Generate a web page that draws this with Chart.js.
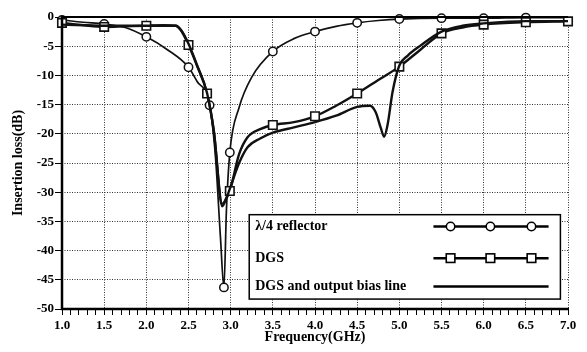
<!DOCTYPE html>
<html><head><meta charset="utf-8">
<script src="https://cdn.jsdelivr.net/npm/chart.js@4"></script>
<style>html,body{margin:0;padding:0;background:#fff}</style>
</head><body>
<canvas id="c" width="587" height="352"></canvas>
<script>
// ---- data ----
const lambdaFreq = [1.0,1.25,1.5,1.75,2.0,2.25,2.5,2.6,2.75,2.82,2.88,2.92,2.95,2.99,3.1,3.25,3.5,3.75,4.0,4.25,4.5,4.75,5.0,5.5,6.0,6.5,7.0];
const lambdaLoss = [-0.5,-0.9,-1.2,-1.8,-3.4,-5.6,-8.6,-11,-15.1,-24,-38,-46.3,-33,-23.2,-15.5,-10.3,-5.9,-3.7,-2.5,-1.6,-1.0,-0.6,-0.35,-0.2,-0.2,-0.1,-0.1];
const lambdaMarkers = [1.0,1.5,2.0,2.5,2.75,2.92,2.99,3.5,4.0,4.5,5.0,5.5,6.0,6.5];

const dgsFreq = [1.0,1.25,1.5,1.75,2.0,2.2,2.35,2.42,2.5,2.6,2.72,2.8,2.9,2.95,2.99,3.1,3.2,3.35,3.5,3.75,4.0,4.25,4.5,4.75,5.0,5.25,5.5,5.75,6.0,6.5,7.0];
const dgsLoss = [-1.0,-1.4,-1.7,-1.6,-1.5,-1.4,-1.5,-2.5,-4.8,-8.3,-13.1,-19.5,-32.4,-31,-29.8,-23.5,-20.6,-19.2,-18.5,-18,-17,-15.2,-13.1,-10.8,-8.5,-5.6,-2.8,-1.8,-1.3,-0.9,-0.75];
const dgsMarkers = [1.0,1.5,2.0,2.5,2.72,2.99,3.5,4.0,4.5,5.0,5.5,6.0,6.5,7.0];

const biasFreq = [1.0,1.5,2.0,2.35,2.42,2.5,2.6,2.72,2.8,2.9,2.95,3.0,3.1,3.2,3.35,3.5,3.75,4.0,4.25,4.5,4.65,4.72,4.78,4.82,4.86,4.92,5.0,5.1,5.25,5.5,5.75,6.0,6.5,7.0];
const biasLoss = [-1.3,-1.5,-1.5,-1.5,-2.4,-4.6,-8.2,-13,-19.5,-32,-31,-29,-25,-22.3,-20.8,-19.8,-18.9,-18,-16.9,-15.4,-15.2,-16.3,-19,-20.5,-18.5,-12.8,-8.3,-6.6,-4.9,-2.5,-1.5,-1.1,-0.7,-0.7];

const seriesNames = ['λ/4 reflector','DGS','DGS and output bias line'];
const xTitle = 'Frequency(GHz)';
const yTitle = 'Insertion loss(dB)';
const xMin = 1.0, xMax = 7.0, yMin = -50, yMax = 0;

// ---- build ----
const toPts = (f, v) => f.map((x, i) => ({x, y: v[i]}));
const near = (a, b) => Math.abs(a - b) < 1e-6;
const markerRadius = (list, r) => ctx => {
  const raw = ctx.raw;
  return raw && list.some(m => near(m, raw.x)) ? r : 0;
};
const FONT = "'Liberation Serif', 'DejaVu Serif', serif";

const framePlugin = {
  id: 'frameLegend',
  afterDatasetsDraw(chart) {
    const {ctx, chartArea: a, scales: {x, y}} = chart;
    ctx.save();
    ctx.strokeStyle = '#000';
    ctx.lineWidth = 2;
    ctx.beginPath(); ctx.moveTo(a.left, a.top); ctx.lineTo(a.right, a.top); ctx.stroke();
    ctx.lineWidth = 2.5;
    ctx.beginPath(); ctx.moveTo(a.left, a.top - 1); ctx.lineTo(a.left, a.bottom); ctx.lineTo(a.right + 1, a.bottom); ctx.stroke();

    // legend box
    const L = x.getPixelForValue(3.22), R = x.getPixelForValue(6.91);
    const T = y.getPixelForValue(-33.85), B = y.getPixelForValue(-48.3);
    ctx.fillStyle = '#fff';
    ctx.fillRect(L, T, R - L, B - T);
    ctx.lineWidth = 1.5;
    ctx.strokeRect(L, T, R - L, B - T);
    const h = B - T, w = R - L;
    const rows = [0.14, 0.515, 0.85].map(f => T + h * f);
    ctx.fillStyle = '#000';
    ctx.font = "bold 14px " + FONT;
    ctx.textBaseline = 'middle';
    ctx.textAlign = 'left';
    seriesNames.forEach((n, i) => ctx.fillText(n, L + 6, rows[i]));
    const s0 = L + w * 0.592, s1 = L + w * 0.962;
    const mk = [0.647, 0.775, 0.907].map(f => L + w * f);
    // row 1
    ctx.lineWidth = 2.4;
    ctx.beginPath(); ctx.moveTo(s0, rows[0]); ctx.lineTo(s1, rows[0]); ctx.stroke();
    mk.forEach(px => { ctx.beginPath(); ctx.arc(px, rows[0], 4.2, 0, Math.PI * 2); ctx.fillStyle = '#fff'; ctx.fill(); ctx.lineWidth = 1.5; ctx.stroke(); });
    // row 2
    ctx.lineWidth = 2.5;
    ctx.beginPath(); ctx.moveTo(s0, rows[1]); ctx.lineTo(s1, rows[1]); ctx.stroke();
    mk.forEach(px => { ctx.fillStyle = '#fff'; ctx.fillRect(px - 4.3, rows[1] - 4.3, 8.6, 8.6); ctx.lineWidth = 1.6; ctx.strokeRect(px - 4.3, rows[1] - 4.3, 8.6, 8.6); });
    // row 3
    ctx.lineWidth = 2.5;
    ctx.beginPath(); ctx.moveTo(s0, rows[2]); ctx.lineTo(s1, rows[2]); ctx.stroke();
    ctx.restore();
  }
};

new Chart(document.getElementById('c'), {
  type: 'line',
  data: {
    datasets: [
      {
        label: seriesNames[2], data: toPts(biasFreq, biasLoss),
        borderColor: '#111', borderWidth: 2.4, pointRadius: 0,
        cubicInterpolationMode: 'monotone', clip: 10
      },
      {
        label: seriesNames[1], data: toPts(dgsFreq, dgsLoss),
        borderColor: '#111', borderWidth: 2.4,
        pointRadius: markerRadius(dgsMarkers, 6), pointStyle: 'rect',
        pointBackgroundColor: '#fff', pointBorderColor: '#111', pointBorderWidth: 1.6,
        cubicInterpolationMode: 'monotone', clip: 10
      },
      {
        label: seriesNames[0], data: toPts(lambdaFreq, lambdaLoss),
        borderColor: '#111', borderWidth: 1.7,
        pointRadius: markerRadius(lambdaMarkers, 4.2), pointStyle: 'circle',
        pointBackgroundColor: '#fff', pointBorderColor: '#111', pointBorderWidth: 1.5,
        cubicInterpolationMode: 'monotone', clip: 10
      }
    ]
  },
  options: {
    responsive: false, animation: false, devicePixelRatio: 1,
    layout: {padding: {left: 4, top: 17, right: 19, bottom: 2}},
    plugins: {legend: {display: false}, tooltip: {enabled: false}},
    elements: {point: {hoverRadius: 0}},
    scales: {
      x: {
        type: 'linear', min: xMin, max: xMax,
        afterFit: s => { s.height = 352 - 2 - 309; },
        ticks: {
          stepSize: 0.1, autoSkip: false, maxRotation: 0, padding: 3,
          color: '#000', font: {family: FONT, size: 13, weight: 'bold'},
          callback: v => near(v * 2, Math.round(v * 2)) ? Number(v).toFixed(1) : ''
        },
        grid: {
          color: c => (c.tick && near(c.tick.value * 2, Math.round(c.tick.value * 2))) ? '#333' : 'rgba(0,0,0,0)',
          lineWidth: 1, tickColor: '#000', tickLength: 6, drawTicks: true
        },
        border: {display: false, dash: [1, 1.5]},
        title: {display: true, text: xTitle, color: '#000', font: {family: FONT, size: 14, weight: 'bold'}, padding: {top: 0, bottom: 4}}
      },
      y: {
        type: 'linear', min: yMin, max: yMax,
        afterFit: s => { s.width = 62 - 4; },
        ticks: {stepSize: 5, color: '#000', padding: 1, font: {family: FONT, size: 13, weight: 'bold'}},
        grid: {color: '#333', lineWidth: 1, tickColor: '#000', tickLength: 7},
        border: {display: false, dash: [1, 1.5]},
        title: {display: true, text: yTitle, color: '#000', font: {family: FONT, size: 14, weight: 'bold'}, padding: {top: 6, bottom: 0}}
      }
    }
  },
  plugins: [framePlugin]
});
</script>
</body></html>
